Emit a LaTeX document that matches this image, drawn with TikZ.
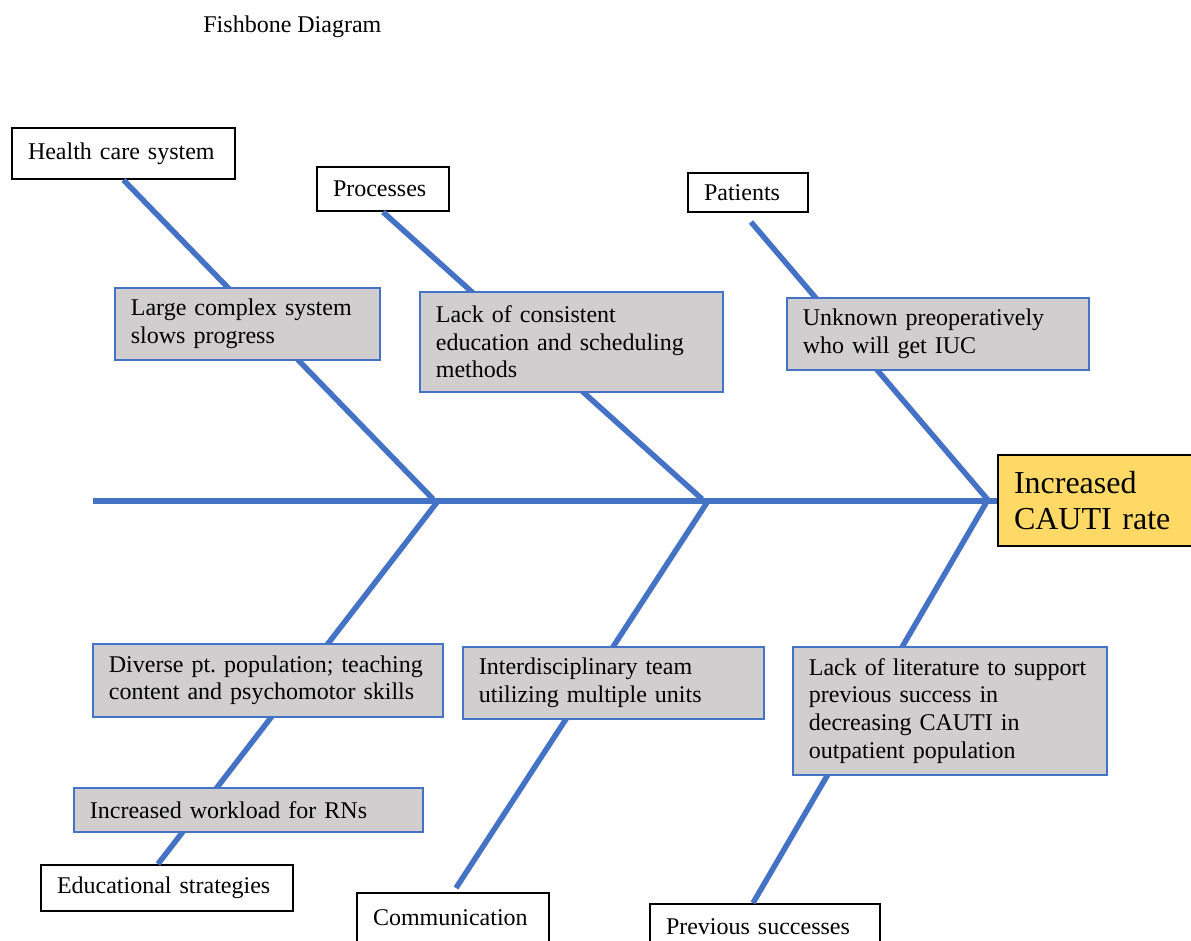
\documentclass[tikz,border=0pt]{standalone}
\usepackage{fontspec}
\setmainfont{Liberation Serif}
\frenchspacing
\definecolor{bonecol}{HTML}{4472C4}
\definecolor{causefill}{HTML}{D0CECE}
\definecolor{effectfill}{HTML}{FFD966}
\begin{document}
\begin{tikzpicture}[x=0.5pt,y=-0.5pt,
  category/.style={draw=black,line width=1pt,fill=white,anchor=north west,
    inner xsep=8pt,inner ysep=0pt,align=left,font=\fontsize{12}{13.8}\selectfont},
  cause/.style={draw=bonecol,line width=0.9pt,fill=causefill,anchor=north west,
    inner xsep=8pt,inner ysep=0pt,align=left,font=\fontsize{12}{13.8}\selectfont},
  bone/.style={draw=bonecol,line width=2.75pt}]
  \useasboundingbox (0,0) rectangle (1191,941);
  \node[anchor=base west,inner sep=0pt,font=\fontsize{12}{13.8}\selectfont] (title) at (203,33) {Fishbone Diagram};
  \node[category,text width=95.5pt,minimum height=25.5pt] (hcs) at (11,127) {Health care system};
  \node[category,text width=50pt,minimum height=22pt] (proc) at (316,166) {Processes};
  \node[category,text width=44pt,minimum height=19.5pt] (pat) at (687,172) {Patients};
  \node[category,text width=110pt,minimum height=23pt] (edu) at (40,864) {Educational strategies};
  \node[category,text width=80pt,minimum height=25pt] (comm) at (356,892) {Communication};
  \node[category,text width=99pt,minimum height=23pt] (prev) at (649,903) {Previous successes};
  \node[draw=black,line width=1pt,fill=effectfill,anchor=north west,inner xsep=8pt,inner ysep=0pt,
    text width=89pt,minimum height=45.5pt,align=left,font=\fontsize{16}{18.4}\selectfont]
    (cauti) at (997,454) {Increased\\CAUTI rate};
  \coordinate (tail) at (93,501);
  \coordinate (j1u) at (433,499);
  \coordinate (j1l) at (438,501);
  \coordinate (j2u) at (702,499);
  \coordinate (j2l) at (708,501);
  \coordinate (j3u) at (988,500);
  \coordinate (j3l) at (986,503);
  \draw[bone] (tail) -- (tail -| cauti.west);
  \draw[bone] (hcs.south) -- (j1u);
  \draw[bone] (proc.south) -- (j2u);
  \draw[bone] ([xshift=1.5pt,yshift=-4.5pt]pat.south) -- (j3u);
  \draw[bone] (j1l) -- ([xshift=-4.5pt]edu.north);
  \draw[bone] (j2l) -- ([xshift=1.5pt,yshift=2pt]comm.north);
  \draw[bone] (j3l) -- ([xshift=-6pt]prev.north);
  \node[cause,text width=116.5pt,minimum height=36pt] (lcs) at (114,287) {Large complex system\\slows progress};
  \node[cause,text width=135.5pt,minimum height=50pt] (lce) at (419,291) {Lack of consistent\\education and scheduling\\methods};
  \node[cause,text width=135pt,minimum height=36pt] (unk) at (786,297) {Unknown preoperatively\\who will get IUC};
  \node[cause,text width=159pt,minimum height=36.5pt] (div) at (92,643) {Diverse pt. population; teaching\\content and psychomotor skills};
  \node[cause,text width=158.5pt,minimum height=22pt] (work) at (73,787) {Increased workload for RNs};
  \node[cause,text width=134.5pt,minimum height=36pt] (inter) at (462,646) {Interdisciplinary team\\utilizing multiple units};
  \node[cause,text width=141pt,minimum height=64pt] (lit) at (792,646) {Lack of literature to support\\previous success in\\decreasing CAUTI in\\outpatient population};
\end{tikzpicture}
\end{document}
